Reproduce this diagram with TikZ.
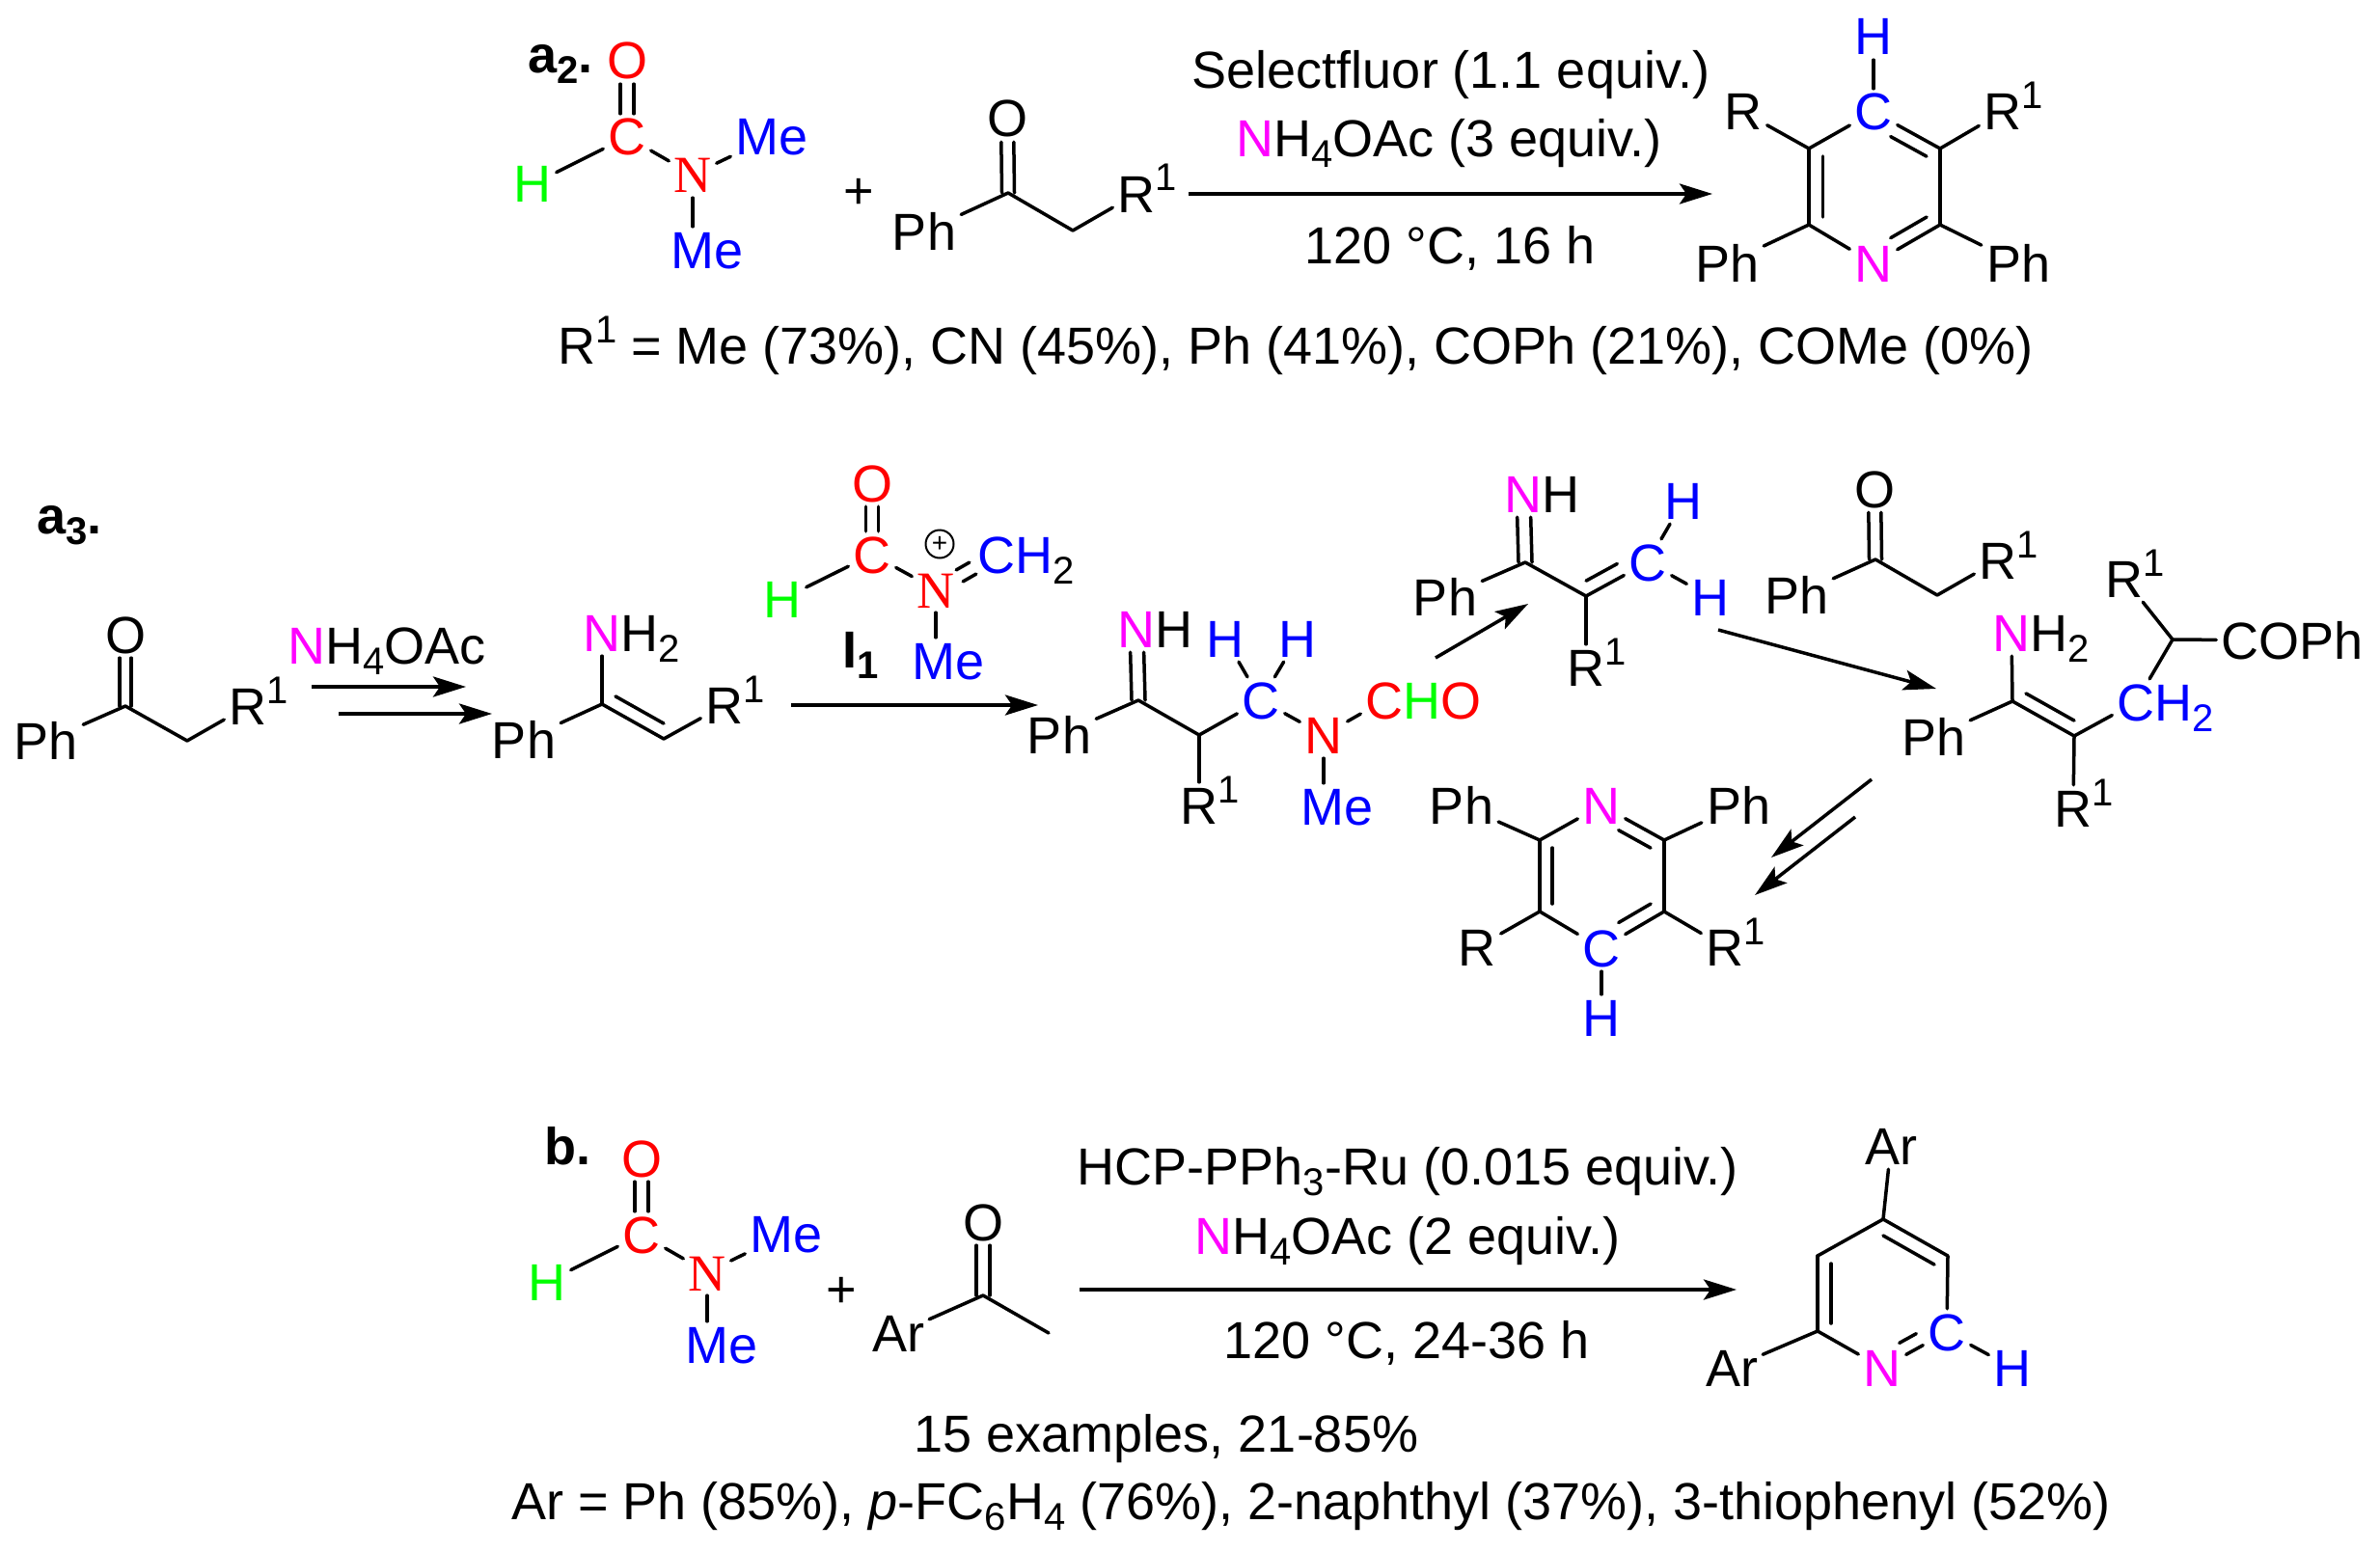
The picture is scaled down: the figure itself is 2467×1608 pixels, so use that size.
\documentclass[tikz,border=0pt]{standalone}
\usepackage{fontspec}
\setmainfont{Liberation Sans}
\newfontfamily\serifN{Liberation Serif}
\usetikzlibrary{arrows.meta}
\definecolor{purN}{RGB}{255,0,255}
\newcommand{\chemfont}{\fontsize{54}{60}\selectfont}
\newcommand{\hightext}[1]{\raisebox{22pt}{\fontsize{40}{40}\selectfont #1}}
\newcommand{\lowtext}[1]{\raisebox{-11pt}{\fontsize{40}{40}\selectfont #1}}
\newcommand{\Rone}{R\rlap{\hightext{1}}}
\newcommand{\Nbk}[1]{N\rlap{\textcolor{black}{#1}}}

\begin{document}
\begin{tikzpicture}[x=1pt,y=-1pt]
\tikzstyle{atom}=[font=\chemfont, text height=38pt, text depth=0pt, inner sep=5pt]
\tikzstyle{txt}=[font=\chemfont, anchor=base, inner sep=0pt]
\tikzstyle{bond}=[line width=3.5pt, line cap=round]
\tikzstyle{inner}=[shorten >=8pt, shorten <=8pt]
\tikzstyle{arrow}=[line width=4pt, -{Stealth[length=34pt,width=21pt,inset=7pt]}]
\useasboundingbox (0,0) rectangle (2467,1608);

% a2 formamide
\node[txt,anchor=base west] (tagA) at (547,76) {\textbf{a\lowtext{2}.}};
\node[atom,text=red] (aO) at (650,63) {O};
\node[atom,text=red] (aC) at (650,142) {C};
\node[atom,text=green] (aH) at (552,191) {H};
\node[atom,text=red] (aN) at (718,181) {\serifN N};
\node[atom,text=blue] (aMe) at (800,142) {Me};
\node[atom,text=blue] (aMf) at (733,259) {Me};
\path[bond]
(aC) edge (aH)
     edge (aN)
     edge[transform canvas={xshift=-7pt}] (aO)
     edge[transform canvas={xshift=7pt}] (aO)
(aN) edge (aMe)
     edge (aN |- aMf.north);
\node[atom] (plusA) at (890,197) {+};

% a2 ketone
\node[atom] (kO) at (1044,123) {O};
\node[atom] (kPh) at (958,240) {Ph};
\node[atom] (kR) at (1178,201) {\Rone};
\coordinate (k1) at (1045,200);
\coordinate (k2) at (1112,239);
\path[bond]
(k1) edge (kPh)
     edge (k2)
     edge[transform canvas={xshift=-6.5pt}] (kO)
     edge[transform canvas={xshift=6.5pt}] (kO)
(k2) edge (kR);

% a2 arrow
\coordinate (arAa) at (1232,201);
\coordinate (arAb) at (1775,201);
\draw[arrow] (arAa) -- (arAb);
\node[txt] (condA) at (1504,92) {Selectfluor (1.1 equiv.)};
\node[txt] (condB) at (1502,163) {\textcolor{purN}{N}H\lowtext{4}OAc (3 equiv.)};
\node[txt] (condC) at (1503,273) {120 °C, 16 h};

% a2 pyridine
\node[atom,text=blue] (pH) at (1942,38) {H};
\node[atom,text=blue] (pC) at (1942,116) {C};
\node[atom,text=purN] (pN) at (1942,273) {N};
\node[atom] (pR) at (1807,116) {R};
\node[atom] (pS) at (2076,116) {\Rone};
\node[atom] (pPh) at (1790,273) {Ph};
\node[atom] (pPi) at (2092,273) {Ph};
\coordinate (p1) at (1875,154);
\coordinate (p2) at (2011,154);
\coordinate (p3) at (2011,233);
\coordinate (p4) at (1875,233);
\path[bond]
(pC) edge (pH)
     edge (p1)
     edge (p2)
     edge[inner,shorten <=0pt,transform canvas={xshift=-7pt,yshift=-12pt}] (p2)
(p1) edge (p4)
     edge (pR)
(p2) edge (p3)
     edge (pS)
(p3) edge (pN)
     edge (pPi)
(p4) edge (pN)
     edge (pPh)
     edge[inner,transform canvas={xshift=14.5pt}] (p1)
(pN) edge[inner,shorten <=0pt,transform canvas={xshift=-7pt,yshift=12pt}] (p3);
\node[txt] (yieldA) at (1343,377) {\Rone\hspace{22pt} = Me (73\%), CN (45\%), Ph (41\%), COPh (21\%), COMe (0\%)};

% a3 ketone
\node[txt,anchor=base west] (tagB) at (38,553) {\textbf{a\lowtext{3}.}};
\node[atom] (cO) at (130,658) {O};
\node[atom] (cPh) at (48,768) {Ph};
\node[atom] (cR) at (257,732) {\Rone};
\coordinate (c1) at (130,732);
\coordinate (c2) at (194,768);
\path[bond]
(c1) edge (cPh)
     edge (c2)
     edge[transform canvas={xshift=-6pt}] (cO)
     edge[transform canvas={xshift=6pt}] (cO)
(c2) edge (cR);
\node[txt] (condD) at (401,688) {\textcolor{purN}{N}H\lowtext{4}OAc};
\coordinate (arBa) at (323,712);
\coordinate (arBb) at (483,712);
\coordinate (arCa) at (351,740);
\coordinate (arCb) at (510,740);
\draw[arrow] (arBa) -- (arBb);
\draw[arrow] (arCa) -- (arCb);

% a3 enamine
\node[atom,text=purN] (eN) at (624,656) {\Nbk{H\lowtext{2}}};
\node[atom] (ePh) at (543,767) {Ph};
\node[atom] (eR) at (751,731) {\Rone};
\coordinate (e1) at (624,730);
\coordinate (e2) at (688,766);
\path[bond]
(e1) edge (eN)
     edge (ePh)
     edge (e2)
     edge[inner,transform canvas={xshift=7pt,yshift=12pt}] (e2)
(e2) edge (eR);
\coordinate (arDa) at (820,731);
\coordinate (arDb) at (1076,731);
\draw[arrow] (arDa) -- (arDb);

% a3 iminium
\node[atom,text=red] (iO) at (904,501) {O};
\node[atom,text=red] (iC) at (904,575) {C};
\node[atom,text=green] (iH) at (811,621) {H};
\node[atom,text=red] (iN) at (970,611) {\serifN N};
\node[atom,text=blue] (iCH) at (1033,575) {C\rlap{H\textcolor{black}{\lowtext{2}}}};
\node[atom,text=blue] (iMe) at (983,685) {Me};
\node[txt] (tagI) at (892,692) {\textbf{I\lowtext{1}}};
\node[circle,draw,line width=2pt,minimum size=29pt,inner sep=0pt,font=\fontsize{28}{28}\selectfont] (iPlus) at (974,564) {\raisebox{-1.5pt}{+}};
\path[bond]
(iC) edge (iH)
     edge (iN)
     edge[transform canvas={xshift=-6.5pt}] (iO)
     edge[transform canvas={xshift=6.5pt}] (iO)
(iN) edge (iN |- iMe.north)
     edge[transform canvas={xshift=-3.5pt,yshift=6pt}] (iCH)
     edge[transform canvas={xshift=3.5pt,yshift=-6pt}] (iCH);

% a3 first adduct
\node[atom] (fPh) at (1098,762) {Ph};
\node[atom,text=purN] (fN) at (1178,652) {\Nbk{H}};
\node[atom] (fR) at (1243,835) {\Rone};
\node[atom,text=blue] (fC) at (1307,726) {C};
\node[atom,text=blue] (fH) at (1270,662) {H};
\node[atom,text=blue] (fI) at (1345,662) {H};
\node[atom,text=red] (fM) at (1372,762) {N};
\node[atom,text=blue] (fMe) at (1386,836) {Me};
\node[atom,text=red] (fCHO) at (1435,726) {C\rlap{\textcolor{green}{H}O}};
\coordinate (f1) at (1180,726);
\coordinate (f2) at (1243,762);
\path[bond]
(f1) edge (fPh)
     edge (f2)
     edge[transform canvas={xshift=-7pt}] (fN)
     edge[transform canvas={xshift=7pt}] (fN)
(f2) edge (fR)
     edge (fC)
(fC) edge (fH)
     edge (fI)
     edge (fM)
(fM) edge (fM |- fMe.north)
     edge (fCHO);
\coordinate (arEa) at (1488,682);
\coordinate (arEb) at (1584,626);
\draw[arrow,line width=3.5pt] (arEa) -- (arEb);

% a3 unsaturated imine
\node[atom] (gPh) at (1498,619) {Ph};
\node[atom,text=purN] (gN) at (1579,512) {\Nbk{H}};
\node[atom] (gR) at (1644,692) {\Rone};
\node[atom,text=blue] (gC) at (1708,583) {C};
\node[atom,text=blue] (gH) at (1745,519) {H};
\node[atom,text=blue] (gI) at (1773,619) {H};
\coordinate (g1) at (1581,583);
\coordinate (g2) at (1644,618);
\path[bond]
(g1) edge (gPh)
     edge (g2)
     edge[transform canvas={xshift=-7pt}] (gN)
     edge[transform canvas={xshift=7pt}] (gN)
(g2) edge (gR)
     edge (gC)
     edge[inner,shorten >=0pt,transform canvas={xshift=-7pt,yshift=12pt}] (gC)
(gC) edge (gH)
     edge (gI);
\coordinate (arFa) at (1781,653);
\coordinate (arFb) at (2007,714);
\draw[arrow,line width=3.5pt] (arFa) -- (arFb);

% a3 ketone, second copy
\node[atom] (hO) at (1943,507) {O};
\node[atom] (hPh) at (1862,617) {Ph};
\node[atom] (hR) at (2071,581) {\Rone};
\coordinate (h1) at (1944,580);
\coordinate (h2) at (2008,617);
\path[bond]
(h1) edge (hPh)
     edge (h2)
     edge[transform canvas={xshift=-6.5pt}] (hO)
     edge[transform canvas={xshift=6.5pt}] (hO)
(h2) edge (hR);

% a3 Michael product
\node[atom,text=purN] (mN) at (2085,656) {\Nbk{H\lowtext{2}}};
\node[atom] (mPh) at (2004,764) {Ph};
\node[atom] (mR) at (2149,838) {\Rone};
\node[atom,text=blue] (mC) at (2214,728) {C\rlap{H\lowtext{2}}};
\node[atom] (mS) at (2202,600) {\Rone};
\node[atom] (mCO) at (2376,664) {COPh};
\coordinate (m1) at (2086,727);
\coordinate (m2) at (2150,763);
\coordinate (m3) at (2252,663);
\path[bond]
(m1) edge (mN)
     edge (mPh)
     edge (m2)
     edge[inner,transform canvas={xshift=7pt,yshift=12pt}] (m2)
(m2) edge (mR)
     edge (mC)
(m3) edge (mC)
     edge (mS)
     edge (mCO);
\coordinate (arGa) at (1940,808);
\coordinate (arGb) at (1836,889);
\coordinate (arHa) at (1923,847);
\coordinate (arHb) at (1819,928);
\draw[arrow,line width=3.5pt] (arGa) -- (arGb);
\draw[arrow,line width=3.5pt] (arHa) -- (arHb);

% a3 pyridine
\node[atom] (qPh) at (1515,835) {Ph};
\node[atom,text=purN] (qN) at (1660,835) {N};
\node[atom] (qPi) at (1802,835) {Ph};
\node[atom,text=blue] (qC) at (1660,983) {C};
\node[atom,text=blue] (qH) at (1660,1055) {H};
\node[atom] (qR) at (1531,982) {R};
\node[atom] (qS) at (1788,982) {\Rone};
\coordinate (q1) at (1596,871);
\coordinate (q2) at (1725,871);
\coordinate (q3) at (1725,945);
\coordinate (q4) at (1596,945);
\path[bond]
(qN) edge (q1)
     edge (q2)
     edge[inner,shorten <=0pt,transform canvas={xshift=-7pt,yshift=-12pt}] (q2)
(q1) edge (qPh)
     edge (q4)
     edge[inner,transform canvas={xshift=13pt}] (q4)
(q2) edge (q3)
     edge (qPi)
(q3) edge (qC)
     edge (qS)
(q4) edge (qC)
     edge (qR)
(qC) edge (qH)
     edge[inner,shorten <=0pt,transform canvas={xshift=-7pt,yshift=12pt}] (q3);

% b formamide
\node[txt,anchor=base west] (tagC) at (564,1207) {\textbf{b.}};
\begin{scope}[shift={(15,1138)}]
\node[atom,text=red] (bO) at (650,63) {O};
\node[atom,text=red] (bC) at (650,142) {C};
\node[atom,text=green] (bH) at (552,191) {H};
\node[atom,text=red] (bN) at (718,181) {\serifN N};
\node[atom,text=blue] (bMe) at (800,141) {Me};
\node[atom,text=blue] (bMf) at (733,256) {Me};
\path[bond]
(bC) edge (bH)
     edge (bN)
     edge[transform canvas={xshift=-7pt}] (bO)
     edge[transform canvas={xshift=7pt}] (bO)
(bN) edge (bMe)
     edge (bN |- bMf.north);
\end{scope}
\node[atom] (plusB) at (872,1336) {+};

% b ketone
\node[atom] (dO) at (1019,1267) {O};
\node[atom] (dAr) at (931,1382) {Ar};
\coordinate (d1) at (1019,1343);
\coordinate (d2) at (1087,1382);
\path[bond]
(d1) edge (dAr)
     edge (d2)
     edge[transform canvas={xshift=-7pt}] (dO)
     edge[transform canvas={xshift=7pt}] (dO);

% b arrow
\coordinate (arIa) at (1119,1337);
\coordinate (arIb) at (1800,1337);
\draw[arrow] (arIa) -- (arIb);
\node[txt] (condE) at (1459,1228) {HCP-PPh\lowtext{3}-Ru (0.015 equiv.)};
\node[txt] (condF) at (1459,1300) {\textcolor{purN}{N}H\lowtext{4}OAc (2 equiv.)};
\node[txt] (condG) at (1458,1408) {120 °C, 24-36 h};

% b pyridine
\node[atom] (rAr) at (1960,1188) {Ar};
\node[atom] (rAs) at (1795,1418) {Ar};
\node[atom,text=purN] (rN) at (1951,1418) {N};
\node[atom,text=blue] (rC) at (2018,1381) {C};
\node[atom,text=blue] (rH) at (2086,1418) {H};
\coordinate (r1) at (1952,1264);
\coordinate (r2) at (2019,1302);
\coordinate (r3) at (1884,1302);
\coordinate (r4) at (1884,1380);
\path[bond]
(r1) edge (rAr)
     edge (r2)
     edge (r3)
     edge[inner,transform canvas={xshift=-7pt,yshift=-13pt}] (r2)
(r2) edge (rC)
(r3) edge (r4)
     edge[inner,transform canvas={xshift=14pt}] (r4)
(r4) edge (rAs)
     edge (rN)
(rN) edge (rC)
     edge[transform canvas={xshift=-7pt,yshift=12pt}] (rC)
(rC) edge (rH);

\node[txt] (yieldB) at (1209,1505) {15 examples, 21-85\%};
\node[txt] (yieldC) at (1359,1575) {Ar = Ph (85\%), \textit{p}-FC\lowtext{6}H\lowtext{4} (76\%), 2-naphthyl (37\%), 3-thiophenyl (52\%)};
\end{tikzpicture}
\end{document}
